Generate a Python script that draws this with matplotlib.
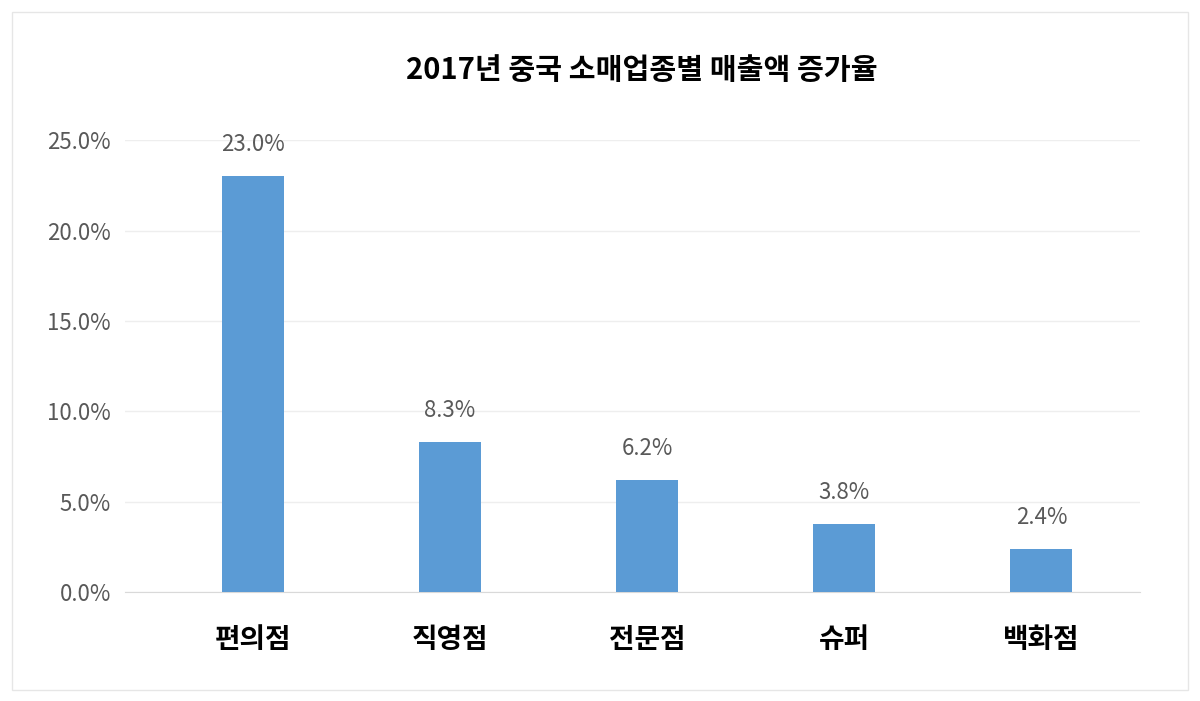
import matplotlib
matplotlib.use("Agg")
import matplotlib.pyplot as plt
from matplotlib.patches import Rectangle

plt.rcParams['font.family'] = ['Noto Sans CJK KR', 'DejaVu Sans']

categories = ['편의점', '직영점', '전문점', '슈퍼', '백화점']
values = [23.0, 8.3, 6.2, 3.8, 2.4]
yticks = [0, 5, 10, 15, 20, 25]

fig = plt.figure(figsize=(12, 7.01), dpi=100)
fig.patches.append(Rectangle((0.01, 0.016), 0.98, 0.967, transform=fig.transFigure,
                             fill=False, edgecolor='#e6e6e6', linewidth=1))
ax = fig.add_axes([0.104, 0.155, 0.846, 0.645])
x = range(len(categories))
ax.bar(x, values, width=0.315, color='#5b9bd5', zorder=3)
for i, v in zip(x, values):
    ax.text(i, v + 1.1, f'{v:.1f}%', ha='center', va='bottom', fontsize=16, color='#595959')
ax.set_xlim(-0.65, 4.5)
ax.set_ylim(0, 25)
ax.set_yticks(yticks)
ax.set_yticklabels([f'{t:.1f}%' for t in yticks], fontsize=16, color='#595959')
ax.set_xticks(list(x))
ax.set_xticklabels(categories, fontsize=20, fontweight='bold', color='#000000')
ax.tick_params(axis='y', length=0, pad=10)
ax.tick_params(axis='x', length=0, pad=24)
ax.grid(axis='y', color='#eeeeee', linewidth=1, zorder=0)
for s in ['top', 'right', 'left']:
    ax.spines[s].set_visible(False)
ax.spines['bottom'].set_color('#d9d9d9')
fig.text(0.535, 0.9, '2017년 중국 소매업종별 매출액 증가율', ha='center', va='center',
         fontsize=21, fontweight='bold', color='#000000')
fig.savefig('out.png', dpi=100, facecolor='white')
